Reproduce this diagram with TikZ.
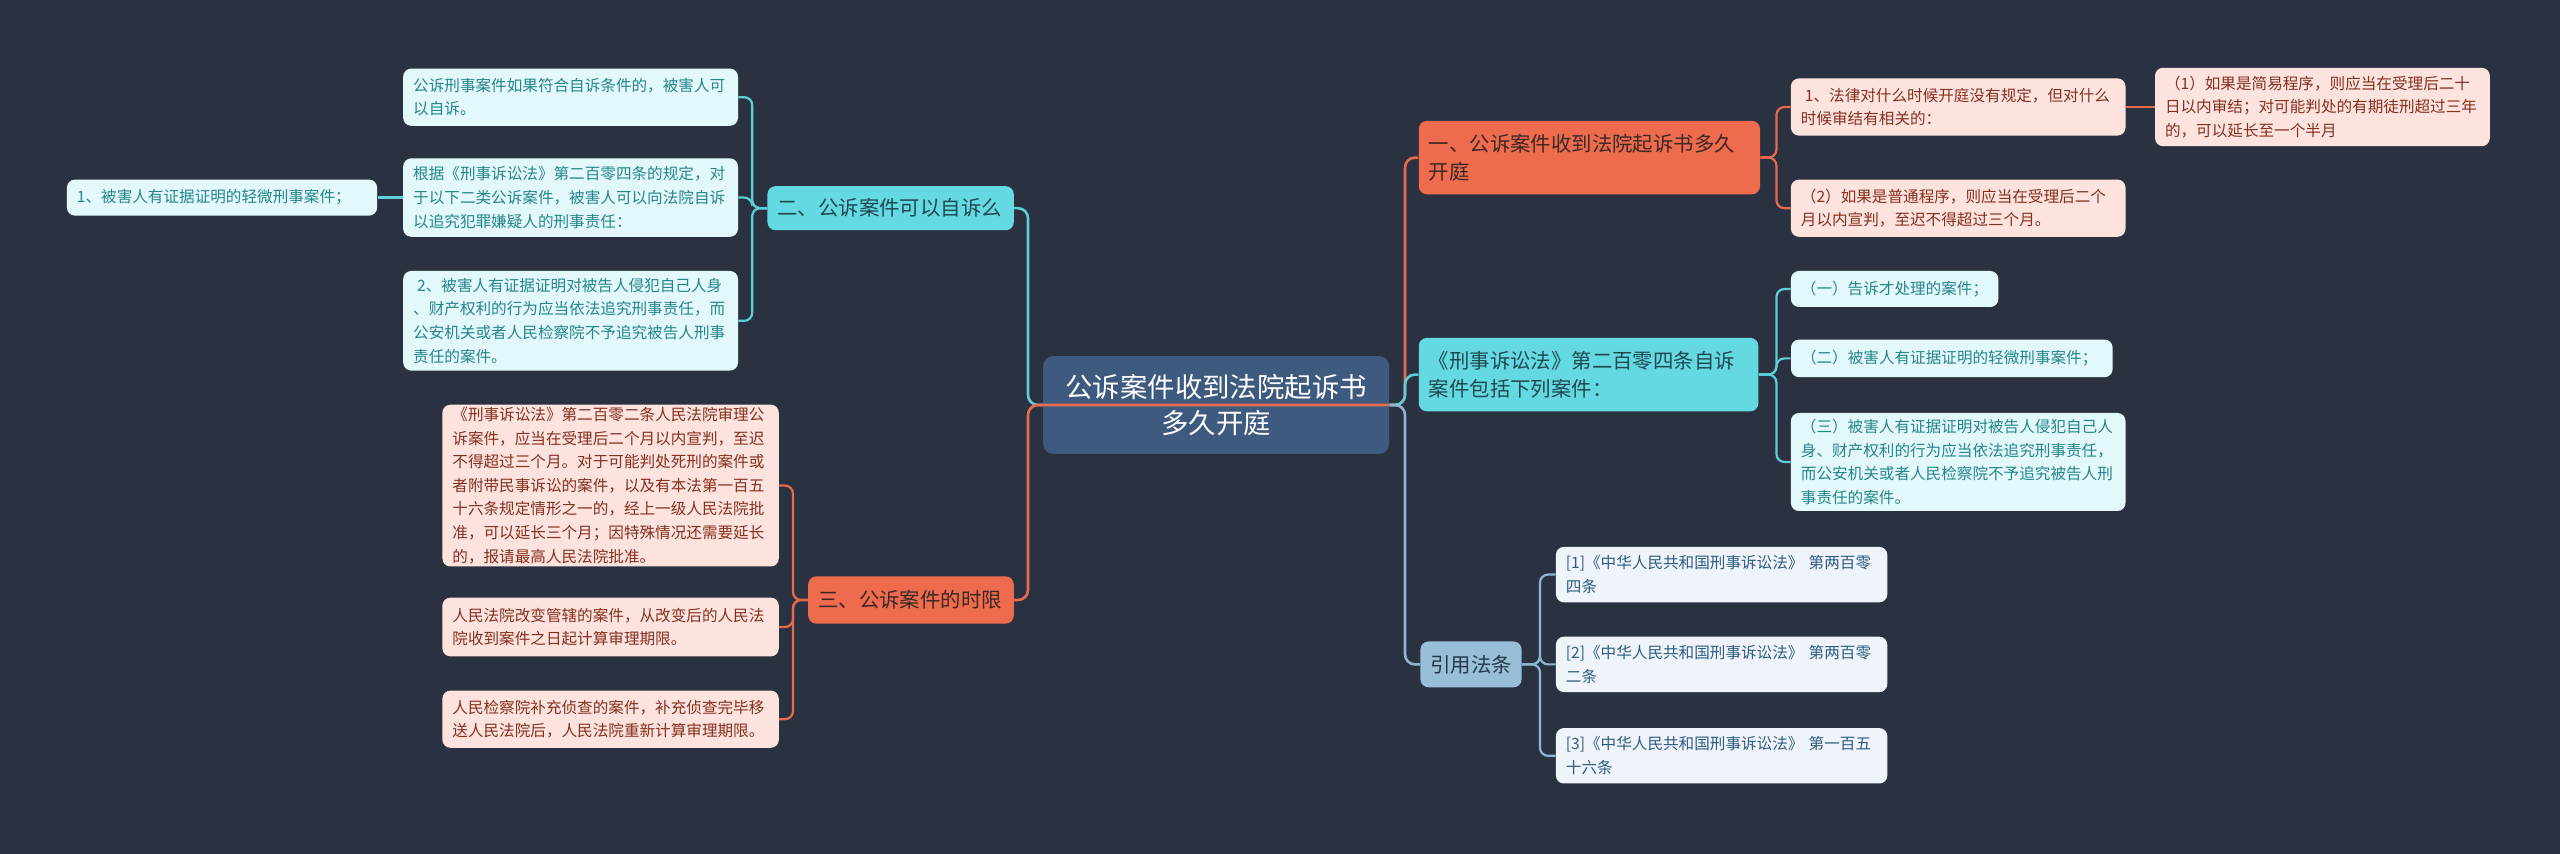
\documentclass[tikz,border=0pt]{standalone}
\usepackage{fontspec}
\setmainfont{Noto Sans CJK SC}
\usetikzlibrary{calc}
\definecolor{bg}{HTML}{2A3140}
\definecolor{ctrF}{HTML}{3E5A7F}
\definecolor{orF}{HTML}{EE6B4D}
\definecolor{orT}{HTML}{3A2824}
\definecolor{pkF}{HTML}{FDE3DE}
\definecolor{pkT}{HTML}{86301F}
\definecolor{cyF}{HTML}{65D9E1}
\definecolor{cyT}{HTML}{1F4850}
\definecolor{lcF}{HTML}{E3F8FA}
\definecolor{lcT}{HTML}{25858C}
\definecolor{rfF}{HTML}{98BFD7}
\definecolor{rfT}{HTML}{25384A}
\definecolor{lbF}{HTML}{EEF4FA}
\definecolor{lbT}{HTML}{2E5C80}
\definecolor{eOr}{HTML}{E96B4E}
\definecolor{eCy}{HTML}{5CCFD8}
\definecolor{eBl}{HTML}{8DB7D1}
\begin{document}
\begin{tikzpicture}[x=1pt,y=-1pt,
  base/.style={rounded corners=4pt, inner xsep=5pt, inner ysep=1pt, align=left, anchor=center},
  small/.style={font=\fontsize{7.8pt}{11.8pt}\selectfont},
  mid/.style={font=\fontsize{10.2pt}{14pt}\selectfont},
  leafO/.style={base, small, fill=pkF, text=pkT},
  leafC/.style={base, small, fill=lcF, text=lcT},
  leafB/.style={base, small, fill=lbF, text=lbT},
  topO/.style={base, mid, fill=orF, text=orT},
  topC/.style={base, mid, fill=cyF, text=cyT},
  topB/.style={base, mid, fill=rfF, text=rfT},
  ctrbox/.style={rounded corners=5pt, inner xsep=5pt, align=center, fill=ctrF, text=white,
    font=\fontsize{13.7pt}{18pt}\selectfont},
  eO/.style={draw=eOr, line width=1.3pt, rounded corners=5pt},
  eC/.style={draw=eCy, line width=1.3pt, rounded corners=5pt},
  eB/.style={draw=eBl, line width=1.3pt, rounded corners=5pt},
  sO/.style={draw=eOr, line width=1.1pt, rounded corners=4pt},
  sC/.style={draw=eCy, line width=1.1pt, rounded corners=4pt},
  sB/.style={draw=eBl, line width=1.1pt, rounded corners=4pt}
]
\fill[bg] (0,0) rectangle (1280,427);
\useasboundingbox (0,0) rectangle (1280,427);

% central
\node[ctrbox, text width=163pt, minimum height=48.9pt] (ctr) at (608.1,202.5) {公诉案件收到法院起诉书\\多久开庭};

% right side
\node[topO, text width=160.6pt, minimum height=36.7pt] (n1) at (794.7,78.8) {一、公诉案件收到法院起诉书多久\\开庭};
\node[leafO, text width=157.3pt, minimum height=28.6pt] (a1) at (979.1,53.5) {\hspace{2pt}1、法律对什么时候开庭没有规定，但对什么\\时候审结有相关的：};
\node[leafO, text width=157.4pt, minimum height=39.2pt] (a11) at (1161.2,53.5) {（1）如果是简易程序，则应当在受理后二十\\日以内审结；对可能判处的有期徒刑超过三年\\的，可以延长至一个半月};
\node[leafO, text width=157.3pt, minimum height=28.6pt] (a2) at (979.1,104.1) {（2）如果是普通程序，则应当在受理后二个\\月以内宣判，至迟不得超过三个月。};

\node[topC, text width=159.8pt, minimum height=36.7pt] (n2) at (794.3,187.3) {《刑事诉讼法》第二百零四条自诉\\案件包括下列案件：};
\node[leafC, text width=93.7pt, minimum height=18pt] (b1) at (947.3,144.5) {（一）告诉才处理的案件；};
\node[leafC, text width=150.8pt, minimum height=18.8pt] (b2) at (975.9,179.2) {（二）被害人有证据证明的轻微刑事案件；};
\node[leafC, text width=157.3pt, minimum height=49pt] (b3) at (979.1,231.0) {（三）被害人有证据证明对被告人侵犯自己人\\身、财产权利的行为应当依法追究刑事责任，\\而公安机关或者人民检察院不予追究被告人刑\\事责任的案件。};

\node[topB, text width=40.6pt, minimum height=22.9pt] (n3) at (735.5,332.2) {引用法条};
\node[leafB, text width=155.7pt, minimum height=27.7pt] (c1) at (860.8,287.3) {[1]《中华人民共和国刑事诉讼法》 第两百零\\四条};
\node[leafB, text width=155.7pt, minimum height=27.7pt] (c2) at (860.8,332.2) {[2]《中华人民共和国刑事诉讼法》 第两百零\\二条};
\node[leafB, text width=155.7pt, minimum height=27.7pt] (c3) at (860.8,377.9) {[3]《中华人民共和国刑事诉讼法》 第一百五\\十六条};

% left side
\node[topC, text width=113.2pt, minimum height=22pt] (n4) at (445.3,104.1) {二、公诉案件可以自诉么};
\node[leafC, text width=157.4pt, minimum height=28.6pt] (d1) at (285.3,48.6) {公诉刑事案件如果符合自诉条件的，被害人可\\以自诉。};
\node[leafC, text width=157.4pt, minimum height=39.2pt] (d2) at (285.3,98.8) {根据《刑事诉讼法》第二百零四条的规定，对\\于以下二类公诉案件，被害人可以向法院自诉\\以追究犯罪嫌疑人的刑事责任：};
\node[leafC, text width=145.1pt, minimum height=18pt] (d21) at (111.0,98.8) {1、被害人有证据证明的轻微刑事案件；};
\node[leafC, text width=157.4pt, minimum height=49.8pt] (d3) at (285.3,160.4) {\hspace{2pt}2、被害人有证据证明对被告人侵犯自己人身\\、财产权利的行为应当依法追究刑事责任，而\\公安机关或者人民检察院不予追究被告人刑事\\责任的案件。};

\node[topO, text width=92.8pt, minimum height=23.6pt] (n5) at (455.5,300.0) {三、公诉案件的时限};
\node[leafO, text width=158.2pt, minimum height=80.9pt] (e1) at (305.3,242.8) {《刑事诉讼法》第二百零二条人民法院审理公\\诉案件，应当在受理后二个月以内宣判，至迟\\不得超过三个月。对于可能判处死刑的案件或\\者附带民事诉讼的案件，以及有本法第一百五\\十六条规定情形之一的，经上一级人民法院批\\准，可以延长三个月；因特殊情况还需要延长\\的，报请最高人民法院批准。};
\node[leafO, text width=158.2pt, minimum height=29.4pt] (e2) at (305.3,313.5) {人民法院改变管辖的案件，从改变后的人民法\\院收到案件之日起计算审理期限。};
\node[leafO, text width=158.2pt, minimum height=28.6pt] (e3) at (305.3,359.6) {人民检察院补充侦查的案件，补充侦查完毕移\\送人民法院后，人民法院重新计算审理期限。};

% junctions
\coordinate (jr) at (702.5,202.5);
\coordinate (jl) at (514,202.5);

% main connectors
\draw[eC] (ctr.west) -- (jl) |- (n4.east);
\draw[eO] (ctr.east) -- (jl) |- (n5.east);
\draw[eO] (ctr.east) -- (jr) |- (n1.west);
\draw[eC] (ctr.east) -- (jr) |- (n2.west);
\draw[eB] (ctr.east) -- (jr) |- (n3.west);

% sub connectors
\draw[sO] (n1.east) -- ++(8,0) |- (a1.west);
\draw[sO] (n1.east) -- ++(8,0) |- (a2.west);
\draw[sO] (a1.east) -- (a11.west);
\draw[sC] (n2.east) -- ++(8.8,0) |- (b1.west);
\draw[sC] (n2.east) -- ++(8.8,0) |- (b2.west);
\draw[sC] (n2.east) -- ++(8.8,0) |- (b3.west);
\draw[sB] (n3.east) -- ++(9,0) |- (c1.west);
\draw[sB] (n3.east) -- ++(9,0) |- (c2.west);
\draw[sB] (n3.east) -- ++(9,0) |- (c3.west);
\draw[sC] (n4.west) -- ++(-7.4,0) |- (d1.east);
\draw[sC] (n4.west) -- ++(-7.4,0) |- (d2.east);
\draw[sC] (n4.west) -- ++(-7.4,0) |- (d3.east);
\draw[sC] (d2.west) -- (d21.east);
\draw[sO] (n5.west) -- ++(-7.4,0) |- (e1.east);
\draw[sO] (n5.west) -- ++(-7.4,0) |- (e2.east);
\draw[sO] (n5.west) -- ++(-7.4,0) |- (e3.east);
\end{tikzpicture}
\end{document}
